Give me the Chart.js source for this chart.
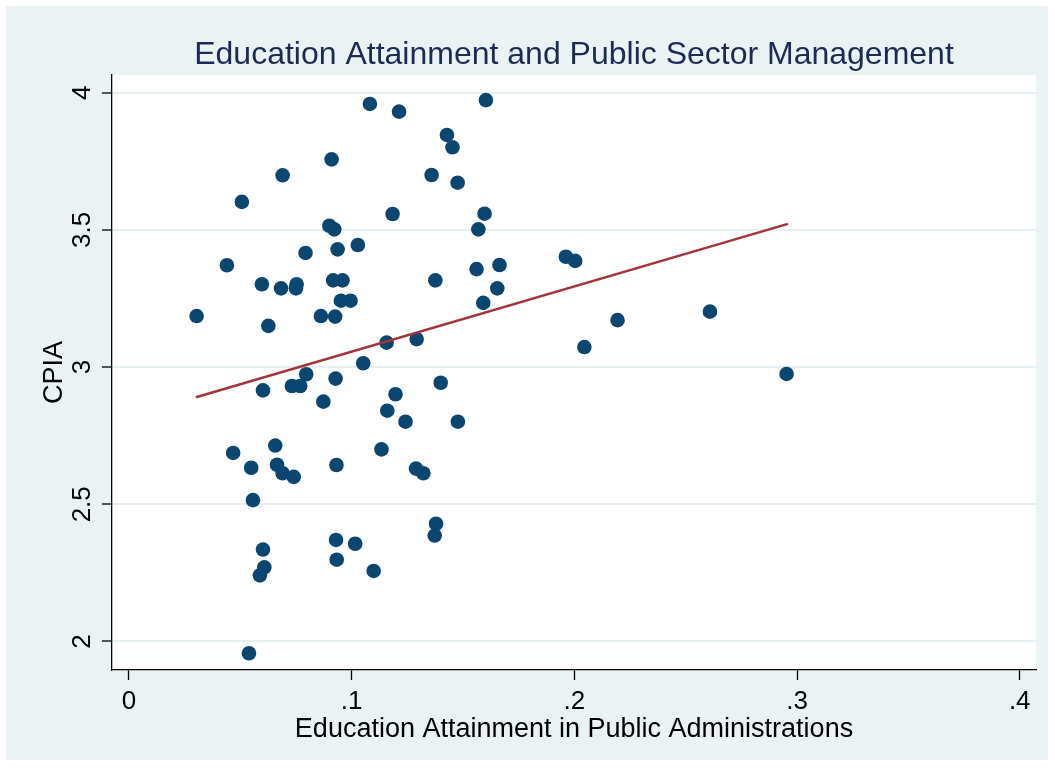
<!DOCTYPE html>
<html>
<head>
<meta charset="utf-8">
<script src="https://cdn.jsdelivr.net/npm/chart.js@4.4.1/dist/chart.umd.min.js"></script>
<style>
  html, body { margin: 0; padding: 0; background: #ffffff; }
  #wrap { width: 1055px; height: 772px; }
</style>
</head>
<body>
<div id="wrap"><canvas id="c" width="1055" height="772"></canvas></div>
<script>
// Text
const titleText = 'Education Attainment and Public Sector Management';
const xTitle = 'Education Attainment in Public Administrations';
const yTitle = 'CPIA';

// Axis ticks
const xTicks = [0, 0.1, 0.2, 0.3, 0.4];
const xTickLabels = ['0', '.1', '.2', '.3', '.4'];
const yTicks = [2, 2.5, 3, 3.5, 4];
const yTickLabels = ['2', '2.5', '3', '3.5', '4'];

// Country observations: share with higher education in public administration vs. CPIA score
const eduShare = [
  0.1082, 0.1213, 0.1603, 0.1428, 0.1453, 0.0910, 0.0690, 0.1359, 0.1476, 0.0507,
  0.1184, 0.1597, 0.0900, 0.0922, 0.1569, 0.1028, 0.0937, 0.0793, 0.1962, 0.2004,
  0.0440, 0.1561, 0.1664, 0.0917, 0.0959, 0.1376, 0.0597, 0.0683, 0.0753, 0.0750,
  0.1654, 0.0952, 0.0995, 0.1591, 0.0304, 0.0862, 0.0926, 0.0626, 0.2609, 0.2194,
  0.1157, 0.1292, 0.2045, 0.1052, 0.0796, 0.0928, 0.2953, 0.0602, 0.0732, 0.0769,
  0.1400, 0.0873, 0.1197, 0.1160, 0.1242, 0.1477, 0.0468, 0.0657, 0.0549, 0.0665,
  0.0690, 0.0740, 0.0932, 0.1134, 0.1289, 0.1322, 0.0557, 0.1379, 0.1373, 0.0930,
  0.1016, 0.0933, 0.1099, 0.0602, 0.0608, 0.0588, 0.0539
];
const cpia = [
  3.959, 3.931, 3.973, 3.846, 3.801, 3.757, 3.699, 3.700, 3.672, 3.602,
  3.558, 3.559, 3.515, 3.502, 3.502, 3.445, 3.429, 3.416, 3.402, 3.387,
  3.371, 3.357, 3.372, 3.316, 3.316, 3.316, 3.302, 3.287, 3.302, 3.287,
  3.287, 3.242, 3.242, 3.234, 3.186, 3.186, 3.184, 3.150, 3.202, 3.171,
  3.089, 3.102, 3.073, 3.014, 2.974, 2.958, 2.975, 2.915, 2.931, 2.931,
  2.943, 2.874, 2.901, 2.841, 2.801, 2.801, 2.687, 2.714, 2.633, 2.644,
  2.613, 2.600, 2.643, 2.700, 2.630, 2.613, 2.515, 2.429, 2.386, 2.370,
  2.356, 2.298, 2.257, 2.335, 2.270, 2.241, 1.957
];

// Linear fit line end points
const fitX = [0.0301, 0.2959];
const fitY = [2.890, 3.522];

const FONT = '"Liberation Sans", Arial, Helvetica, sans-serif';
Chart.defaults.font.family = FONT;

const scatterPoints = eduShare.map((x, i) => ({ x: x, y: cpia[i] }));
const fitPoints = fitX.map((x, i) => ({ x: x, y: fitY[i] }));

// Graph region background, plot region, titles and rotated y labels
const framePlugin = {
  id: 'framePlugin',
  beforeDraw(chart) {
    const ctx = chart.ctx;
    const a = chart.chartArea;
    ctx.save();
    ctx.fillStyle = '#ffffff';
    ctx.fillRect(0, 0, chart.width, chart.height);
    ctx.fillStyle = '#eaf2f3';
    ctx.fillRect(6, 6, 1042, 754);
    ctx.fillStyle = '#ffffff';
    ctx.fillRect(a.left, a.top, a.right - a.left, a.bottom - a.top);
    ctx.restore();
  },
  afterDraw(chart) {
    const ctx = chart.ctx;
    const a = chart.chartArea;
    const cx = (a.left + a.right) / 2;
    const cy = (a.top + a.bottom) / 2;
    const yScale = chart.scales.y;
    ctx.save();
    // Title
    ctx.fillStyle = '#1b2b55';
    ctx.font = '32px ' + FONT;
    ctx.textAlign = 'center';
    ctx.textBaseline = 'alphabetic';
    ctx.fillText(titleText, cx, 64);
    // X axis title
    ctx.fillStyle = '#000000';
    ctx.font = '27px ' + FONT;
    ctx.fillText(xTitle, cx, 737);
    // Y tick labels, rotated
    ctx.font = '26px ' + FONT;
    yTicks.forEach((v, i) => {
      const py = yScale.getPixelForValue(v);
      ctx.save();
      ctx.translate(90, py);
      ctx.rotate(-Math.PI / 2);
      ctx.fillText(yTickLabels[i], 0, 0);
      ctx.restore();
    });
    // Y axis title
    ctx.font = '27px ' + FONT;
    ctx.save();
    ctx.translate(62, cy);
    ctx.rotate(-Math.PI / 2);
    ctx.fillText(yTitle, 0, 0);
    ctx.restore();
    ctx.restore();
  }
};

new Chart(document.getElementById('c'), {
  data: {
    datasets: [
      {
        type: 'line',
        data: fitPoints,
        borderColor: '#a2343c',
        borderWidth: 2.5,
        pointRadius: 0,
        fill: false,
        tension: 0,
        order: 0
      },
      {
        type: 'scatter',
        data: scatterPoints,
        backgroundColor: '#0a4670',
        borderWidth: 0,
        pointRadius: 7.3,
        pointHoverRadius: 7.3,
        order: 1
      }
    ]
  },
  options: {
    responsive: false,
    animation: false,
    devicePixelRatio: 1,
    layout: { padding: { top: 75, right: 19, bottom: 0, left: 0 } },
    plugins: {
      legend: { display: false },
      tooltip: { enabled: false },
      title: { display: false }
    },
    events: [],
    scales: {
      x: {
        type: 'linear',
        position: 'bottom',
        min: -0.0076,
        max: 0.4073,
        afterBuildTicks: (s) => { s.ticks = xTicks.map(v => ({ value: v })); },
        afterFit: (s) => { s.height = 102; },
        ticks: {
          autoSkip: false,
          maxRotation: 0,
          minRotation: 0,
          padding: 6,
          color: '#000000',
          font: { size: 26, family: FONT },
          callback: (v) => {
            const i = xTicks.findIndex(t => Math.abs(t - v) < 1e-9);
            return i >= 0 ? xTickLabels[i] : '';
          }
        },
        grid: {
          drawOnChartArea: false,
          drawTicks: true,
          tickLength: 10,
          tickColor: '#000000',
          tickWidth: 1.3
        },
        border: { display: true, color: '#000000', width: 1.3 }
      },
      y: {
        type: 'linear',
        position: 'left',
        min: 1.896,
        max: 4.0645,
        afterBuildTicks: (s) => { s.ticks = yTicks.map(v => ({ value: v })); },
        afterFit: (s) => { s.width = 112; },
        ticks: { display: false },
        grid: {
          drawOnChartArea: true,
          color: '#e6eff1',
          lineWidth: 2,
          drawTicks: true,
          tickLength: 10,
          tickColor: '#000000',
          tickWidth: 1.3
        },
        border: { display: true, color: '#000000', width: 1.3 }
      }
    }
  },
  plugins: [framePlugin]
});
</script>
</body>
</html>
